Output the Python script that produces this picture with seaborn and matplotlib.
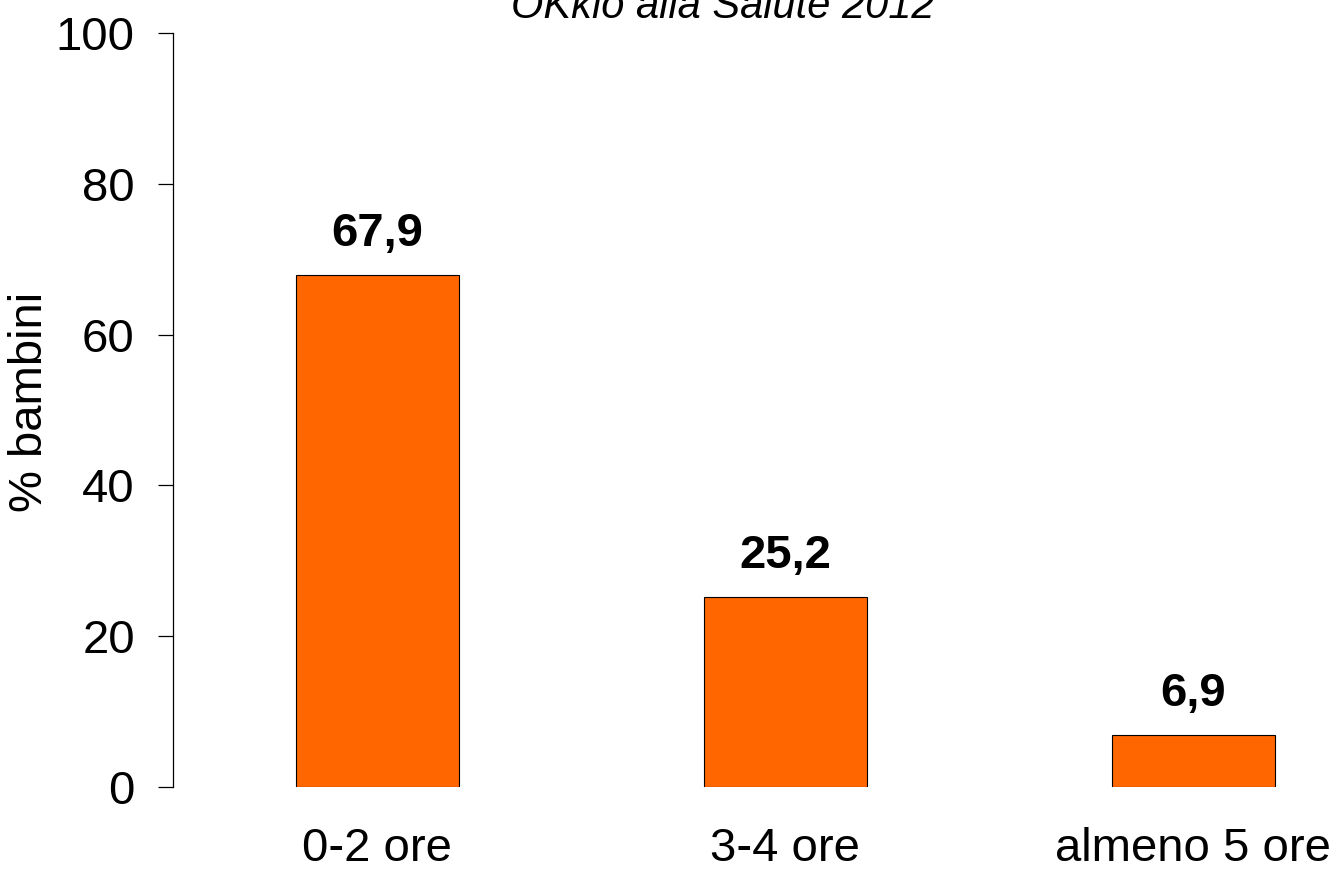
import matplotlib
matplotlib.use("Agg")
import matplotlib.pyplot as plt
import seaborn as sns
import pandas as pd

sns.set_style("white")
plt.rcParams['font.family'] = ['Liberation Sans', 'DejaVu Sans']
plt.rcParams['text.color'] = 'black'
plt.rcParams['xtick.color'] = 'black'
plt.rcParams['ytick.color'] = 'black'
plt.rcParams['axes.labelcolor'] = 'black'

# data
categories = ["0-2 ore", "3-4 ore", "almeno 5 ore"]
percent = [67.9, 25.2, 6.9]
bar_labels = ["67,9", "25,2", "6,9"]
y_ticks = [0, 20, 40, 60, 80, 100]
title = "OKkio alla Salute 2012"
ylabel = "% bambini"

df = pd.DataFrame({"cat": categories, "pct": percent})

fig = plt.figure(figsize=(13.37, 8.74), dpi=100)
ax = fig.add_axes([173 / 1337, 87 / 874, 1164 / 1337, 754 / 874])

sns.barplot(data=df, x="cat", y="pct", color="#FF6600", saturation=1,
            edgecolor="black", linewidth=0.8, width=0.4, ax=ax)

ax.bar_label(ax.containers[0], labels=bar_labels, padding=14,
             fontsize=34, fontweight="bold", color="black")

ax.set_xlim(-0.501, 2.352)
ax.set_ylim(0, 100)
ax.set_yticks(y_ticks)
ax.set_yticklabels([str(t) for t in y_ticks])
ax.set_xlabel("")
ax.set_ylabel("")

for s in ["top", "right", "bottom"]:
    ax.spines[s].set_visible(False)
ax.spines["left"].set_bounds(0, 100)
ax.spines["left"].set_color("black")
ax.spines["left"].set_linewidth(0.9)

ax.tick_params(axis="y", length=11, width=0.9, colors="black", pad=16.5,
               labelsize=34, left=True)
ax.tick_params(axis="x", length=0, pad=29, labelsize=34, colors="black")

fig.text(722.5 / 1337, 1 - 18 / 874, title, fontsize=30, style="italic",
         ha="center", va="baseline", color="black")
fig.text(30 / 1337, 1 - 402 / 874, ylabel, fontsize=34, rotation=90,
         ha="center", va="center", color="black")

fig.savefig("out.png", dpi=100)
